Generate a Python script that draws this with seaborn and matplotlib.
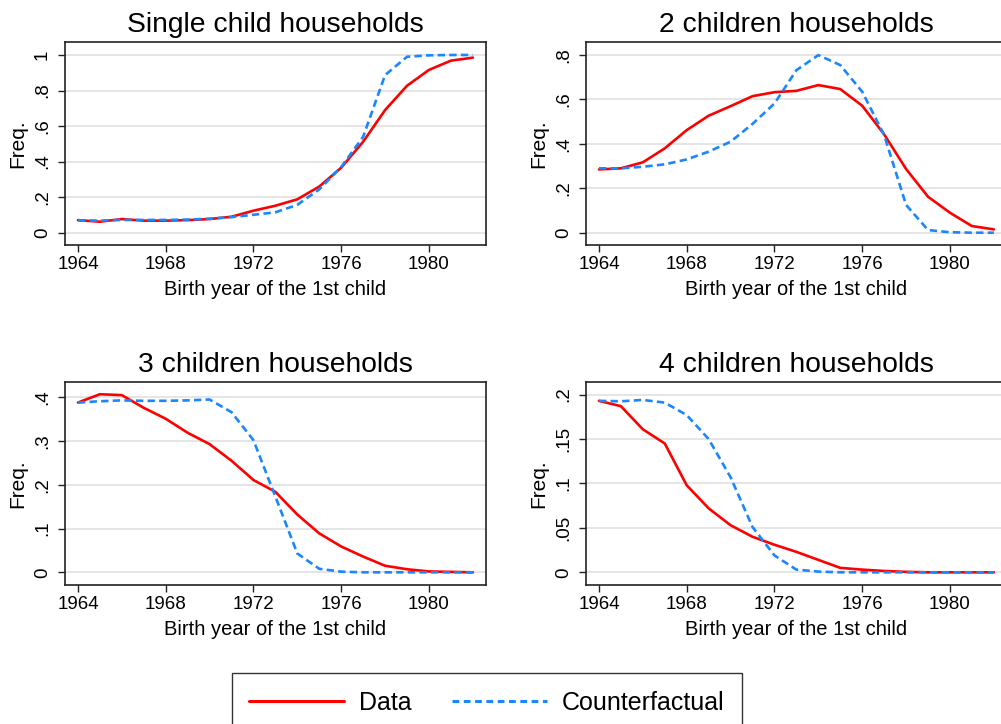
import numpy as np
import pandas as pd
import matplotlib
matplotlib.use('Agg')
import matplotlib.pyplot as plt
from matplotlib.ticker import FuncFormatter, FixedLocator
from matplotlib.lines import Line2D
import seaborn as sns

# ---------------------------------------------------------------
# data
# ---------------------------------------------------------------
years = list(range(1964, 1983))

single_data = [0.071, 0.062, 0.077, 0.068, 0.068, 0.071, 0.077, 0.090, 0.124, 0.152,
               0.188, 0.260, 0.366, 0.512, 0.690, 0.827, 0.916, 0.968, 0.985]
single_cf = [0.070, 0.068, 0.072, 0.072, 0.072, 0.074, 0.079, 0.088, 0.101, 0.115,
             0.157, 0.244, 0.370, 0.540, 0.887, 0.990, 0.998, 1.000, 1.000]

two_data = [0.285, 0.290, 0.317, 0.380, 0.462, 0.527, 0.570, 0.615, 0.633, 0.639,
            0.665, 0.647, 0.572, 0.443, 0.287, 0.162, 0.090, 0.030, 0.015]
two_cf = [0.290, 0.290, 0.297, 0.308, 0.330, 0.365, 0.410, 0.490, 0.582, 0.732,
          0.800, 0.755, 0.635, 0.440, 0.125, 0.012, 0.002, 0.000, 0.000]

three_data = [0.388, 0.407, 0.405, 0.376, 0.351, 0.319, 0.293, 0.255, 0.211, 0.184,
              0.132, 0.089, 0.059, 0.036, 0.015, 0.007, 0.002, 0.001, 0.000]
three_cf = [0.388, 0.391, 0.393, 0.392, 0.392, 0.393, 0.395, 0.366, 0.302, 0.173,
            0.043, 0.008, 0.0015, 0.0, 0.0, 0.0, 0.0, 0.0, 0.0]

four_data = [0.193, 0.187, 0.161, 0.145, 0.098, 0.072, 0.053, 0.040, 0.031, 0.023,
             0.014, 0.005, 0.003, 0.0015, 0.0005, 0.0, 0.0, 0.0, 0.0]
four_cf = [0.193, 0.1925, 0.194, 0.191, 0.177, 0.150, 0.107, 0.051, 0.019, 0.003,
           0.0008, 0.0, 0.0, 0.0, 0.0, 0.0, 0.0, 0.0, 0.0]

titles = ['Single child households', '2 children households',
          '3 children households', '4 children households']
series_data = [single_data, two_data, three_data, four_data]
series_cf = [single_cf, two_cf, three_cf, four_cf]
y_ticks = [[0, 0.2, 0.4, 0.6, 0.8, 1.0],
           [0, 0.2, 0.4, 0.6, 0.8],
           [0, 0.1, 0.2, 0.3, 0.4],
           [0, 0.05, 0.1, 0.15, 0.2]]
y_lims = [(-0.069, 1.073), (-0.0554, 0.859), (-0.029, 0.435), (-0.0143, 0.2142)]
x_ticks = [1964, 1968, 1972, 1976, 1980]
legend_labels = ['Data', 'Counterfactual']

RED = '#FF0000'
BLUE = '#1A87FF'
DASH = (0, (2.8, 1.6))

# ---------------------------------------------------------------
# style
# ---------------------------------------------------------------
sns.set_style('white')
plt.rcParams['font.family'] = ['Liberation Sans', 'DejaVu Sans']
plt.rcParams['text.color'] = 'black'
plt.rcParams['axes.labelcolor'] = 'black'
plt.rcParams['xtick.color'] = 'black'
plt.rcParams['ytick.color'] = 'black'


def stata_fmt(v, pos):
    s = f'{v:g}'
    if s.startswith('0.'):
        s = s[1:]
    return s


W, H = 1001, 724
fig = plt.figure(figsize=(W / 100, H / 100), dpi=100)

# axes boxes in pixels: (left, top)
boxes = [(65, 42), (586, 42), (65, 382), (586, 382)]
bw, bh = 421, 203

for i, (left, top) in enumerate(boxes):
    ax = fig.add_axes([left / W, 1 - (top + bh) / H, bw / W, bh / H])
    df = pd.DataFrame({'year': years, 'data': series_data[i], 'cf': series_cf[i]})
    sns.lineplot(data=df, x='year', y='data', ax=ax, color=RED, lw=1.9)
    sns.lineplot(data=df, x='year', y='cf', ax=ax, color=BLUE, lw=1.9, linestyle=DASH)

    ax.set_xlim(1963.41, 1982.6)
    ax.set_ylim(*y_lims[i])
    ax.xaxis.set_major_locator(FixedLocator(x_ticks))
    ax.yaxis.set_major_locator(FixedLocator(y_ticks[i]))
    ax.yaxis.set_major_formatter(FuncFormatter(stata_fmt))
    ax.grid(axis='y', color='#DEDEDE', lw=1.1)
    ax.grid(axis='x', visible=False)
    ax.set_axisbelow(True)
    for sp in ax.spines.values():
        sp.set_color('#222222')
        sp.set_linewidth(1.2)

    ax.tick_params(axis='both', which='major', direction='out', length=5,
                   width=1.0, color='#222222', labelsize=13.5,
                   bottom=True, left=True)
    ax.tick_params(axis='x', pad=3)
    ax.tick_params(axis='y', pad=5)
    for lab in ax.get_yticklabels():
        lab.set_rotation(90)
        lab.set_va('center')
        lab.set_ha('right')

    ax.set_title(titles[i], fontsize=20.3, pad=7)
    ax.set_xlabel('Birth year of the 1st child', fontsize=14.5, labelpad=5)
    ax.set_ylabel('Freq.', fontsize=15, labelpad=5)

handles = [Line2D([], [], color=RED, lw=2.2),
           Line2D([], [], color=BLUE, lw=2.2, linestyle=(0, (2.2, 1.5)))]
leg = fig.legend(handles, legend_labels, loc='upper center',
                 bbox_to_anchor=(487 / W, 1 - 673 / H), ncol=2, fontsize=18,
                 frameon=True, fancybox=False, handlelength=3.8,
                 handletextpad=0.6, columnspacing=1.6, borderpad=0.7,
                 borderaxespad=0)
leg.get_frame().set_edgecolor('black')
leg.get_frame().set_linewidth(1.0)

fig.savefig('out.png', dpi=100)
